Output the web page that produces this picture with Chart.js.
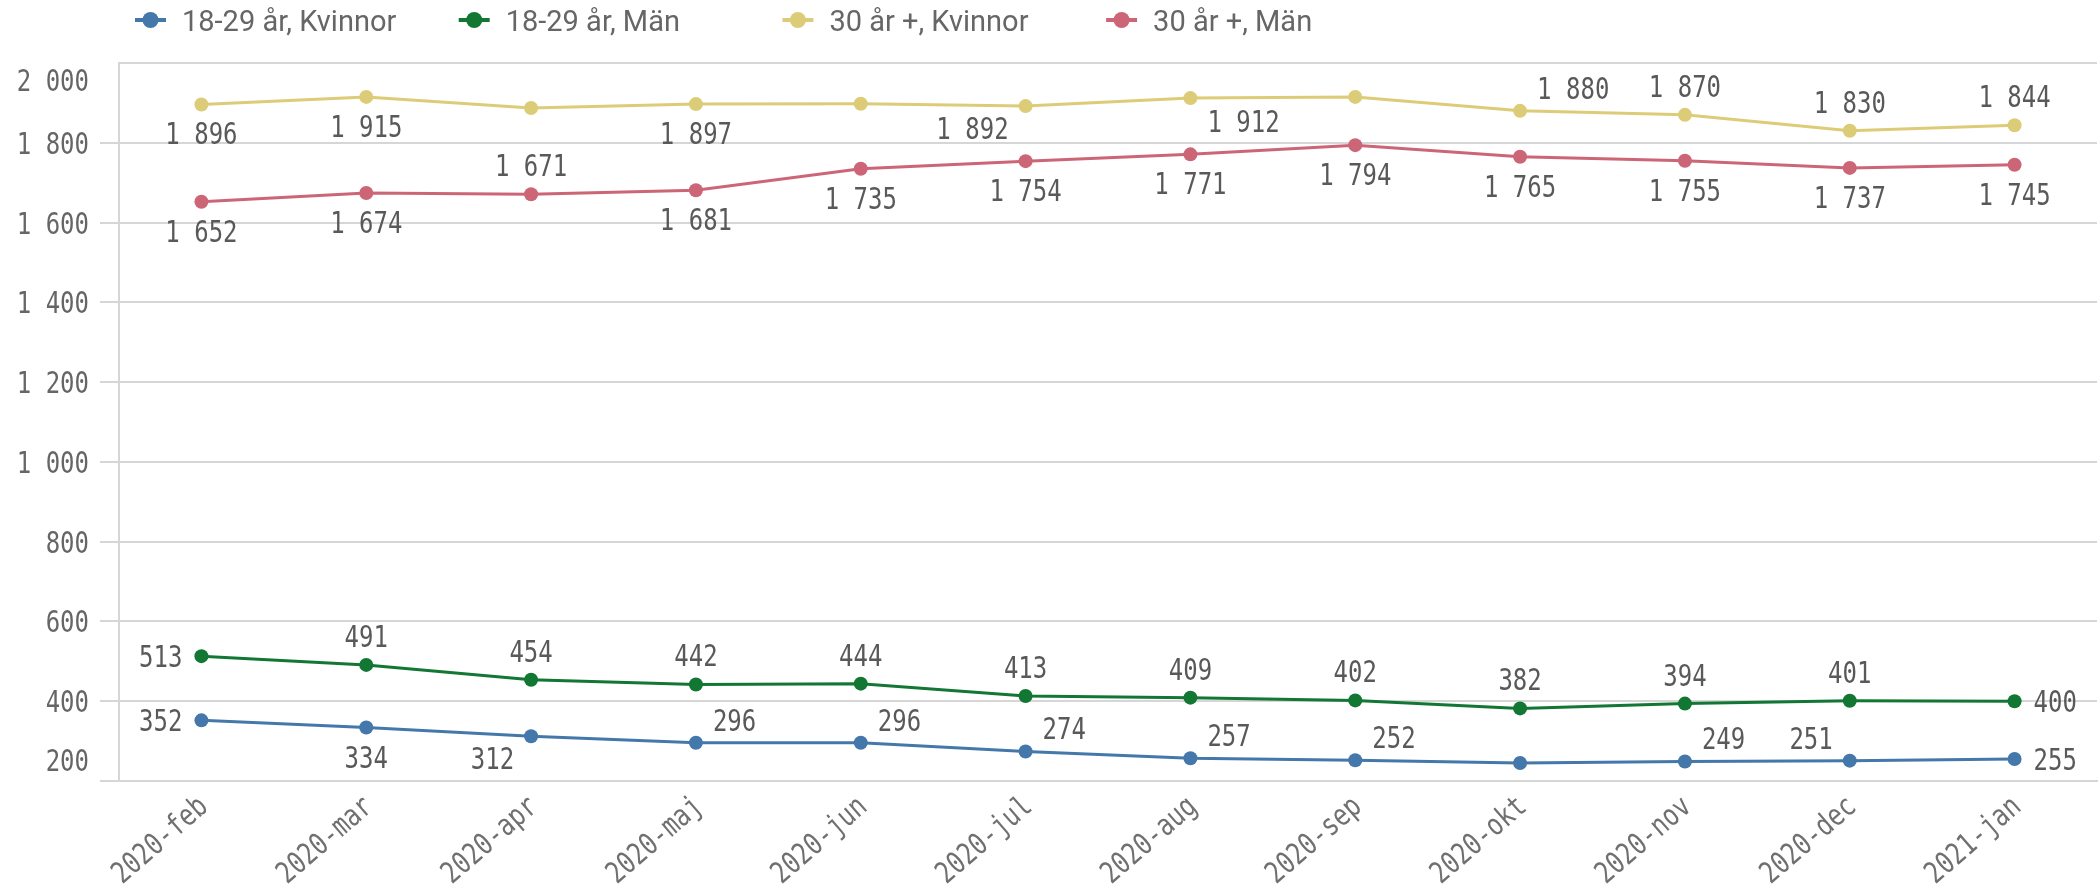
<!DOCTYPE html>
<html>
<head>
<meta charset="utf-8">
<script src="https://cdn.jsdelivr.net/npm/chart.js@4/dist/chart.umd.min.js"></script>
<style>
  body { margin: 0; background: #fff; }
  canvas { display: block; }
</style>
</head>
<body>
<canvas id="chart" width="2099" height="892"></canvas>
<script>
const months = ["2020-feb", "2020-mar", "2020-apr", "2020-maj", "2020-jun", "2020-jul",
                "2020-aug", "2020-sep", "2020-okt", "2020-nov", "2020-dec", "2021-jan"];

const seriesNames = ["18-29 år, Kvinnor", "18-29 år, Män", "30 år +, Kvinnor", "30 år +, Män"];
const kvinnor1829 = [352, 334, 312, 296, 296, 274, 257, 252, 245, 249, 251, 255];
const man1829     = [513, 491, 454, 442, 444, 413, 409, 402, 382, 394, 401, 400];
const kvinnor30   = [1896, 1915, 1887, 1897, 1898, 1892, 1912, 1915, 1880, 1870, 1830, 1844];
const man30       = [1652, 1674, 1671, 1681, 1735, 1754, 1771, 1794, 1765, 1755, 1737, 1745];

const yTicks      = [200, 400, 600, 800, 1000, 1200, 1400, 1600, 1800, 2000];
const yTickLabels = ["200", "400", "600", "800", "1 000", "1 200", "1 400", "1 600", "1 800", "2 000"];

const colors = ["#4477aa", "#117733", "#ddcc77", "#cc6677"];

// where each value label sits relative to its point ('' = hidden, like the original)
const labelPos = [
    ["l", "b", "bl", "ar", "ar", "ar", "ar", "ar", "", "ar", "al", "r"],
    ["l", "a", "a", "a", "a", "a", "a", "a", "a", "a", "a", "r"],
    ["b", "b", "", "b", "", "bl", "br", "", "ar", "a", "a", "a"],
    ["b", "b", "a", "b", "b", "b", "b", "b", "b", "b", "b", "b"]
];

const monoFont = '30px "DejaVu Sans Mono"';
const squeeze = 0.8;

function fmt(v) {
    if (v < 1000) return String(v);
    return Math.floor(v / 1000) + " " + String(v % 1000).padStart(3, "0");
}

function narrowText(ctx, txt, x, y, align, angle) {
    ctx.save();
    ctx.translate(x, y);
    if (angle) ctx.rotate(angle);
    ctx.scale(squeeze, 1);
    ctx.textAlign = align;
    ctx.textBaseline = "alphabetic";
    ctx.fillText(txt, 0, 0);
    ctx.restore();
}

const textPlugin = {
    id: "textPlugin",
    afterDatasetsDraw(chart) {
        const ctx = chart.ctx;
        ctx.save();
        ctx.font = monoFont;
        ctx.fillStyle = "#595959";
        chart.data.datasets.forEach((ds, di) => {
            const meta = chart.getDatasetMeta(di);
            meta.data.forEach((pt, i) => {
                const pos = labelPos[di][i];
                if (!pos) return;
                const txt = fmt(ds.data[i]);
                const w = ctx.measureText(txt).width * squeeze;
                let dx = 0, dy = 0;
                if (pos === "a") dy = -29;
                if (pos === "b") dy = 29;
                if (pos === "l") dx = -(w / 2 + 19);
                if (pos === "r") dx = w / 2 + 19;
                if (pos === "ar") { dx = w / 2 + 17; dy = -23; }
                if (pos === "al") { dx = -(w / 2 + 17); dy = -23; }
                if (pos === "br") { dx = w / 2 + 17; dy = 23; }
                if (pos === "bl") { dx = -(w / 2 + 17); dy = 22; }
                narrowText(ctx, txt, pt.x + dx, pt.y + dy + 11, "center");
            });
        });
        ctx.restore();
    },
    afterDraw(chart) {
        const ctx = chart.ctx;
        const area = chart.chartArea;
        const yScale = chart.scales.y;
        const xScale = chart.scales.x;

        // y tick labels, first and last kept inside the plot
        ctx.save();
        ctx.font = monoFont;
        ctx.fillStyle = "#666666";
        yTicks.forEach((v, i) => {
            let cy = yScale.getPixelForValue(v);
            cy = Math.min(Math.max(cy, area.top + 17), area.bottom - 21);
            narrowText(ctx, yTickLabels[i], 89, cy + 11, "right");
        });

        // x labels, rotated
        ctx.fillStyle = "#707070";
        months.forEach((m, i) => {
            const x = xScale.getPixelForValue(i);
            narrowText(ctx, m, x + 8, area.bottom + 28, "right", -41 * Math.PI / 180);
        });

        // legend
        ctx.font = '29px "Roboto"';
        ctx.textAlign = "left";
        ctx.textBaseline = "alphabetic";
        seriesNames.forEach((name, i) => {
            const x0 = 135 + i * 323.7;
            ctx.strokeStyle = colors[i];
            ctx.lineWidth = 4;
            ctx.beginPath();
            ctx.moveTo(x0, 20);
            ctx.lineTo(x0 + 31, 20);
            ctx.stroke();
            ctx.fillStyle = colors[i];
            ctx.beginPath();
            ctx.arc(x0 + 15.5, 20, 8, 0, Math.PI * 2);
            ctx.fill();
            ctx.fillStyle = "#666666";
            ctx.fillText(name, x0 + 47, 31);
        });
        ctx.restore();
    }
};

const series = [kvinnor1829, man1829, kvinnor30, man30];
const gridColor = "#d6d6d6";

new Chart(document.getElementById("chart").getContext("2d"), {
    type: "line",
    data: {
        labels: months,
        datasets: series.map((vals, i) => ({
            label: seriesNames[i],
            data: vals,
            borderColor: colors[i],
            backgroundColor: colors[i],
            pointBackgroundColor: colors[i],
            pointBorderColor: colors[i],
            borderWidth: 3,
            pointRadius: 7,
            pointBorderWidth: 0,
            tension: 0
        }))
    },
    options: {
        responsive: false,
        animation: false,
        devicePixelRatio: 1,
        layout: {
            autoPadding: false,
            padding: { left: 100, top: 63, right: 2, bottom: 111 }
        },
        plugins: {
            legend: { display: false },
            tooltip: { enabled: false }
        },
        scales: {
            x: {
                offset: true,
                grid: { display: false, drawTicks: false },
                ticks: { display: false },
                border: { display: true, color: gridColor, width: 2 }
            },
            y: {
                min: 200,
                max: 2000,
                ticks: { display: false, stepSize: 200 },
                grid: {
                    color: gridColor,
                    lineWidth: 2,
                    tickLength: 19,
                    tickColor: ctx => (ctx.tick && ctx.tick.value === 2000 ? "rgba(0,0,0,0)" : gridColor)
                },
                border: { display: true, color: gridColor, width: 2 }
            }
        }
    },
    plugins: [textPlugin]
});
</script>
</body>
</html>
